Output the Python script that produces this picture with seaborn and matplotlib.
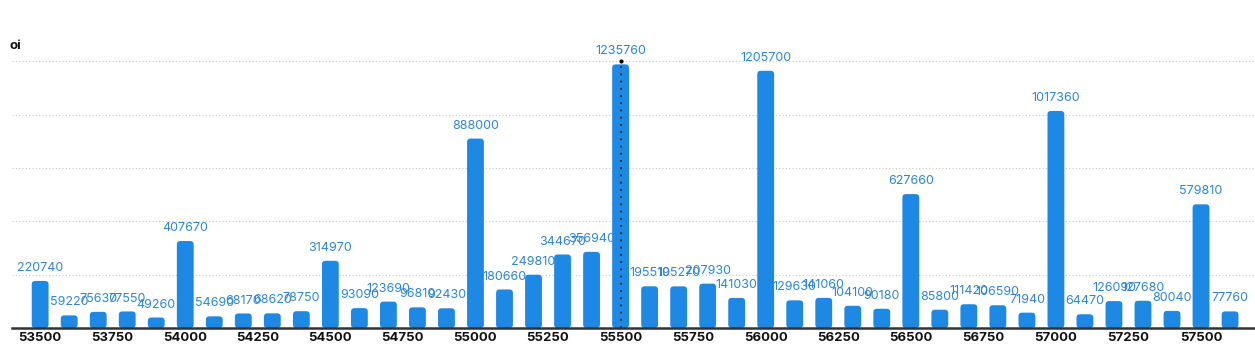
import numpy as np
import pandas as pd
import seaborn as sns
import matplotlib.pyplot as plt
from matplotlib.patches import FancyBboxPatch

strikes = list(range(53500, 57601, 100))
oi = [220740, 59220, 75630, 77550, 49260, 407670, 54690, 68170, 68620, 78750,
      314970, 93090, 123690, 96810, 92430, 888000, 180660, 249810, 344670, 356940,
      1235760, 195510, 195270, 207930, 141030, 1205700, 129630, 141060, 104100, 90180,
      627660, 85800, 111420, 106590, 71940, 1017360, 64470, 126090, 127680, 80040,
      579810, 77760]
tick_labels = list(range(53500, 57501, 250))
grid_levels = [250000, 500000, 750000, 1000000, 1250000]
marker_strike = 55500

data = pd.DataFrame({"strike": strikes, "oi": oi})

sns.set_style("white")
plt.rcParams['font.family'] = ['Inter', 'DejaVu Sans']

fig = plt.figure(figsize=(12.55, 3.52), dpi=100)
ax = fig.add_axes([12 / 1255, 24 / 352, 1243 / 1255, 288 / 352])

sns.barplot(data=data, x="strike", y="oi", native_scale=True, width=0.58,
            color="#1e88e5", saturation=1, ax=ax, zorder=3)

# round the bar corners a little
for p in list(ax.patches):
    x, y = p.get_x(), p.get_y()
    w, h = p.get_width(), p.get_height()
    p.remove()
    ax.add_patch(FancyBboxPatch((x, y), w, h,
                                boxstyle="round,pad=0,rounding_size=12",
                                mutation_aspect=4700 / 3.45, fc="#1e88e5", ec="none",
                                zorder=3))

for s, v in zip(strikes, oi):
    ax.annotate(str(v), (s, v), xytext=(0, 5), textcoords="offset points",
                ha="center", va="bottom", fontsize=9, color="#2f86d0", zorder=4)

for g in grid_levels:
    ax.axhline(g, color="#c8c8c8", lw=0.8, ls=(0, (1, 2)), zorder=1)

ax.plot([marker_strike, marker_strike], [0, grid_levels[-1]], color="#2b2b2b",
        lw=1.3, ls=(0, (1, 3)), zorder=5)
ax.plot([marker_strike], [grid_levels[-1]], marker="o", ms=2, color="black", zorder=5)

ax.set_xlim(53403, 57686)
ax.set_ylim(0, 1350000)
ax.set_xticks(tick_labels)
ax.set_xticklabels([str(t) for t in tick_labels], fontweight="bold", fontsize=9.5,
                   color="#111111")
ax.tick_params(axis="x", length=0, pad=3)
ax.set_yticks([])
ax.set_xlabel("")
ax.set_ylabel("")
for side in ["top", "right", "left"]:
    ax.spines[side].set_visible(False)
ax.spines["bottom"].set_color("#333333")
ax.spines["bottom"].set_linewidth(1.8)
ax.spines["bottom"].set_zorder(6)

fig.text(10 / 1255, 1 - 46 / 352, "oi", fontweight="bold", fontsize=9.5,
         va="center", ha="left", color="#111111")

fig.savefig("out.png", dpi=100, facecolor="white")
